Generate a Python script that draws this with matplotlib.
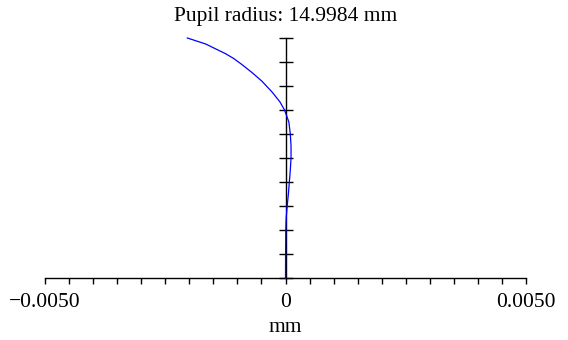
import matplotlib
matplotlib.use("Agg")
import matplotlib.pyplot as plt
from matplotlib.ticker import MultipleLocator, FixedLocator

plt.rcParams['font.family'] = ['Liberation Serif', 'DejaVu Serif']

# normalized pupil coordinate and ray aberration (mm)
pupil = [0.0, 0.1, 0.2, 0.25, 0.3, 0.35, 0.4, 0.45, 0.5, 0.55, 0.6, 0.65, 0.7,
         0.735, 0.775, 0.82, 0.855, 0.89, 0.915, 0.935, 0.975, 1.0]
aberration = [0.0, 0.000002, 0.000006, 0.000014, 0.000035, 0.00006, 0.00008,
              0.0001, 0.000115, 0.000115, 0.0001, 0.00007, -0.00002,
              -0.00012, -0.00028, -0.00049, -0.00069, -0.00091, -0.00108,
              -0.00125, -0.00166, -0.00204]

x_ticks = [-0.005, 0, 0.005]
x_labels = ["\u22120.0050", "0", "0.0050"]
title = "Pupil radius: 14.9984 mm"


def main():
    fig = plt.figure(figsize=(5.68, 3.4), dpi=100)
    ax = fig.add_axes([45 / 568, 62 / 340, 481 / 568, 240 / 340])

    ax.plot(aberration, pupil, color="#0000ff", linewidth=0.9, zorder=5, clip_on=False)

    ax.set_xlim(-0.005, 0.005)
    ax.set_ylim(0, 1)

    ax.spines['top'].set_visible(False)
    ax.spines['right'].set_visible(False)
    ax.spines['left'].set_position(('data', 0))
    ax.spines['bottom'].set_linewidth(1.0)
    ax.spines['left'].set_linewidth(1.0)

    ax.xaxis.set_major_locator(FixedLocator(x_ticks))
    ax.set_xticklabels(x_labels)
    ax.xaxis.set_minor_locator(MultipleLocator(0.0005))
    ax.tick_params(axis='x', which='both', direction='out', length=4, width=1,
                   labelsize=15.5, pad=7)

    ax.yaxis.set_major_locator(MultipleLocator(0.1))
    ax.tick_params(axis='y', which='major', direction='inout', length=10, width=1,
                   labelleft=False)

    ax.set_xlabel("mm", fontsize=15.5, labelpad=4)
    ax.set_title(title, fontsize=15.5, pad=12)

    fig.savefig("out.png", dpi=100)


if __name__ == '__main__':
    main()
